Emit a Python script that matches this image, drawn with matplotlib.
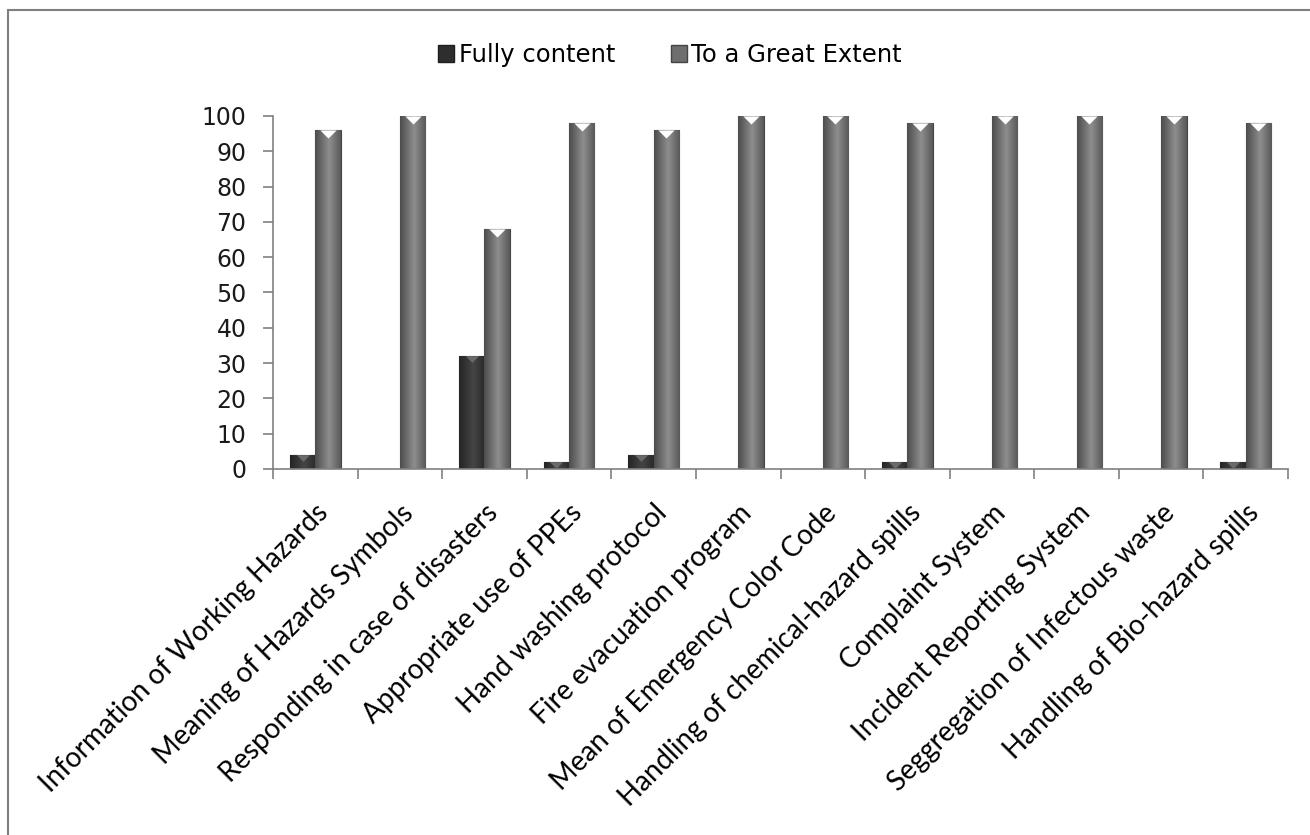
import numpy as np
import matplotlib.pyplot as plt
from matplotlib.patches import Rectangle
from matplotlib.colors import LinearSegmentedColormap

categories = [
    "Information of Working Hazards",
    "Meaning of Hazards Symbols",
    "Responding in case of disasters",
    "Appropriate use of PPEs",
    "Hand washing protocol",
    "Fire evacuation program",
    "Mean of Emergency Color Code",
    "Handling of chemical-hazard spills",
    "Complaint System",
    "Incident Reporting System",
    "Seggregation of Infectous waste",
    "Handling of Bio-hazard spills",
]
fully_content = [4, 0, 32, 2, 4, 0, 0, 2, 0, 0, 0, 2]
great_extent = [96, 100, 68, 98, 96, 100, 100, 98, 100, 100, 100, 98]
series_names = ["Fully content", "To a Great Extent"]


def shade_bars(ax, bars, dark, light):
    # horizontal cylinder-like gradient clipped to each bar
    t = np.linspace(0, 1, 64)
    prof = np.clip(1 - np.abs(t - 0.55) * 1.8, 0, 1)[None, :]
    cmap = LinearSegmentedColormap.from_list("g", [dark, light])
    for b in bars:
        x, y = b.get_x(), b.get_y()
        w, h = b.get_width(), b.get_height()
        if h <= 0:
            continue
        im = ax.imshow(prof, cmap=cmap, vmin=0, vmax=1, aspect="auto",
                       extent=(x, x + w, y, y + h), zorder=2, interpolation="bicubic")
        im.set_clip_path(b)


fig = plt.figure(figsize=(13.1, 8.35), dpi=100)
ax = fig.add_axes([273 / 1310, 1 - 469 / 835, (1288 - 273) / 1310, (469 - 116) / 835])

x = np.arange(len(categories))
w = 0.3
b1 = ax.bar(x - w / 2, fully_content, w, color="#2e2e2e", edgecolor="#1e1e1e", lw=0.8, zorder=1)
b2 = ax.bar(x + w / 2, great_extent, w, color="#6e6e6e", edgecolor="#444444", lw=0.8, zorder=1)
shade_bars(ax, b1, "#242424", "#454545")
shade_bars(ax, b2, "#4c4c4c", "#8e8e8e")

# v-shaped notch on the bar tops
notch = [(-1, 0.5), (1, 0.5), (0, -0.5), (-1, 0.5)]
fc = np.array(fully_content)
ge = np.array(great_extent)
ax.scatter((x - w / 2)[fc > 0], fc[fc > 0] - 0.9, marker=notch, s=90, color="#6a6a6a", zorder=3, lw=0)
ax.scatter(x + w / 2, ge - 1.15, marker=notch, s=135, color="white", zorder=3, lw=0)

ax.set_xlim(-0.5, len(categories) - 0.5)
ax.set_ylim(0, 100)
ax.set_yticks(range(0, 101, 10))
ax.set_xticks(x)
ax.set_xticklabels(categories, rotation=45, ha="right", rotation_mode="anchor",
                   fontsize=20, family="Lato")
ax.set_xticks(np.arange(-0.5, len(categories), 1), minor=True)
ax.tick_params(axis="x", which="major", length=0, pad=22)
ax.tick_params(axis="x", which="minor", length=7, width=1.2, color="#808080", direction="out")
ax.tick_params(axis="y", length=7, width=1.2, color="#808080", labelsize=17, pad=12,
               labelcolor="#1a1a1a")
for s in ["top", "right"]:
    ax.spines[s].set_visible(False)
for s in ["left", "bottom"]:
    ax.spines[s].set_color("#808080")
    ax.spines[s].set_linewidth(1.2)

h1 = Rectangle((0, 0), 1, 1, fc="#2e2e2e", ec="#1e1e1e")
h2 = Rectangle((0, 0), 1, 1, fc="#6e6e6e", ec="#444444")
fig.legend([h1, h2], series_names, loc="center", bbox_to_anchor=(670 / 1310, 1 - 55 / 835),
           ncol=2, frameon=False, fontsize=17.5, handlelength=0.65, handleheight=0.65,
           handletextpad=0.2, columnspacing=2.3)

# outer chart border
fig.patches.append(Rectangle((8 / 1310, -0.05), 1.1, 1 - 10 / 835 + 0.05, transform=fig.transFigure,
                             fill=False, ec="#7f7f7f", lw=1.5))

fig.savefig("out.png", dpi=100)
